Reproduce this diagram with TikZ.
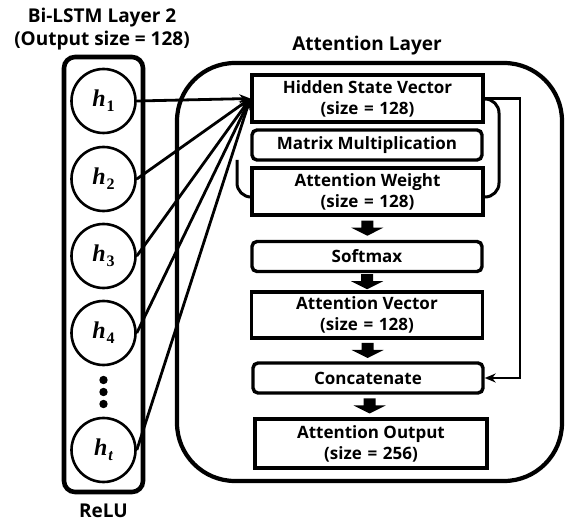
\documentclass[tikz,border=0pt]{standalone}
\usepackage{fontspec}
\setmainfont{Open Sans}
\newfontfamily\hfont{Liberation Serif}
\usetikzlibrary{arrows.meta}
\newcommand{\hb}[1]{{\hfont\bfseries\itshape h\kern1pt\raisebox{-5pt}{\fontsize{16}{16}\selectfont #1}}}
\begin{document}
\begin{tikzpicture}[x=1pt,y=-1pt,
  font=\fontsize{17}{21}\selectfont\bfseries,
  title/.style={font=\fontsize{19}{22}\selectfont\bfseries},
  box/.style={draw,line width=3.4pt,fill=white,minimum width=231pt,minimum height=47pt,align=center,inner sep=0pt},
  rbox/.style={draw,line width=3.4pt,fill=white,rounded corners=5pt,minimum width=230pt,minimum height=30pt,align=center,inner sep=0pt},
  hnode/.style={draw,circle,line width=2.6pt,minimum size=64pt,inner sep=0pt,font=\fontsize{24}{24}\selectfont},
  conn/.style={line width=2.8pt,-{Stealth[length=11pt,width=9pt]}},
  barrow/.pic={\fill (-6,-7.5) -- (6,-7.5) -- (6,-0.5) -- (16,-0.5) -- (0,7.5) -- (-16,-0.5) -- (-6,-0.5) -- cycle;}
]
\useasboundingbox (0,0) rectangle (566,524);
% titles
\node[title] (t1) at (102,18) {Bi-LSTM Layer 2};
\node[title] (t2) at (102,41) {(Output size = 128)};
\node[title] (t3) at (367,46) {Attention Layer};
\node[title] (relu) at (103.5,511) {ReLU};
% containers
\draw[line width=4.6pt,rounded corners=11pt] (64,57) rectangle (143,492);
\draw[line width=4.2pt,rounded corners=58pt] (177,63) rectangle (562,481);
% loop behind
\draw[line width=3pt,rounded corners=14pt] (483,99) -- (499,99) -- (499,197) -- (483,197);
\draw[line width=3pt,rounded corners=14pt] (237,160) -- (237,197) -- (252,197);
% boxes
\node[box] (hs) at (367.5,98.5) {Hidden State Vector\\(size\,\,=\,\,128)};
\node[rbox] (mm) at (367,145) {Matrix Multiplication};
\node[box] (aw) at (367.5,191.5) {Attention Weight\\(size\,\,=\,\,128)};
\node[rbox] (sm) at (367,256.5) {Softmax};
\node[box,minimum height=46pt] (av) at (367,315) {Attention Vector\\(size\,\,=\,\,128)};
\node[rbox] (cc) at (368,378) {Concatenate};
\node[box,minimum width=232pt,minimum height=49pt] (ao) at (371,443.5) {Attention Output\\(size\,\,=\,\,256)};
% block arrows
\path (aw.south) -- (sm.north) coordinate[pos=.5] (m1);
\path (sm.south) -- (av.north) coordinate[pos=.5] (m2);
\path (av.south) -- (cc.north) coordinate[pos=.5] (m3);
\path (cc.south) -- (ao.north) coordinate[pos=.5] (m4);
\pic at (m1) {barrow};
\pic at (m2) {barrow};
\pic at (m3) {barrow};
\pic at (m4) {barrow};
% skip connection
\draw[conn] (hs.east) -- (520,98.5) |- (cc.east);
% hidden nodes
\node[hnode] (h1) at (103.5,101) {\hb{\upshape 1}};
\node[hnode] (h2) at (103.5,179) {\hb{\upshape 2}};
\node[hnode] (h3) at (103.5,256) {\hb{\upshape 3}};
\node[hnode] (h4) at (103.5,333) {\hb{\upshape 4}};
\node[hnode] (ht) at (103.5,450) {\hb{t}};
\fill (103.5,380) circle (4.2pt) (103.5,392) circle (4.2pt) (103.5,404) circle (4.2pt);
\foreach \n in {h1,h2,h3,h4,ht} \draw[conn] (\n.east) -- (hs.west);
\end{tikzpicture}
\end{document}
